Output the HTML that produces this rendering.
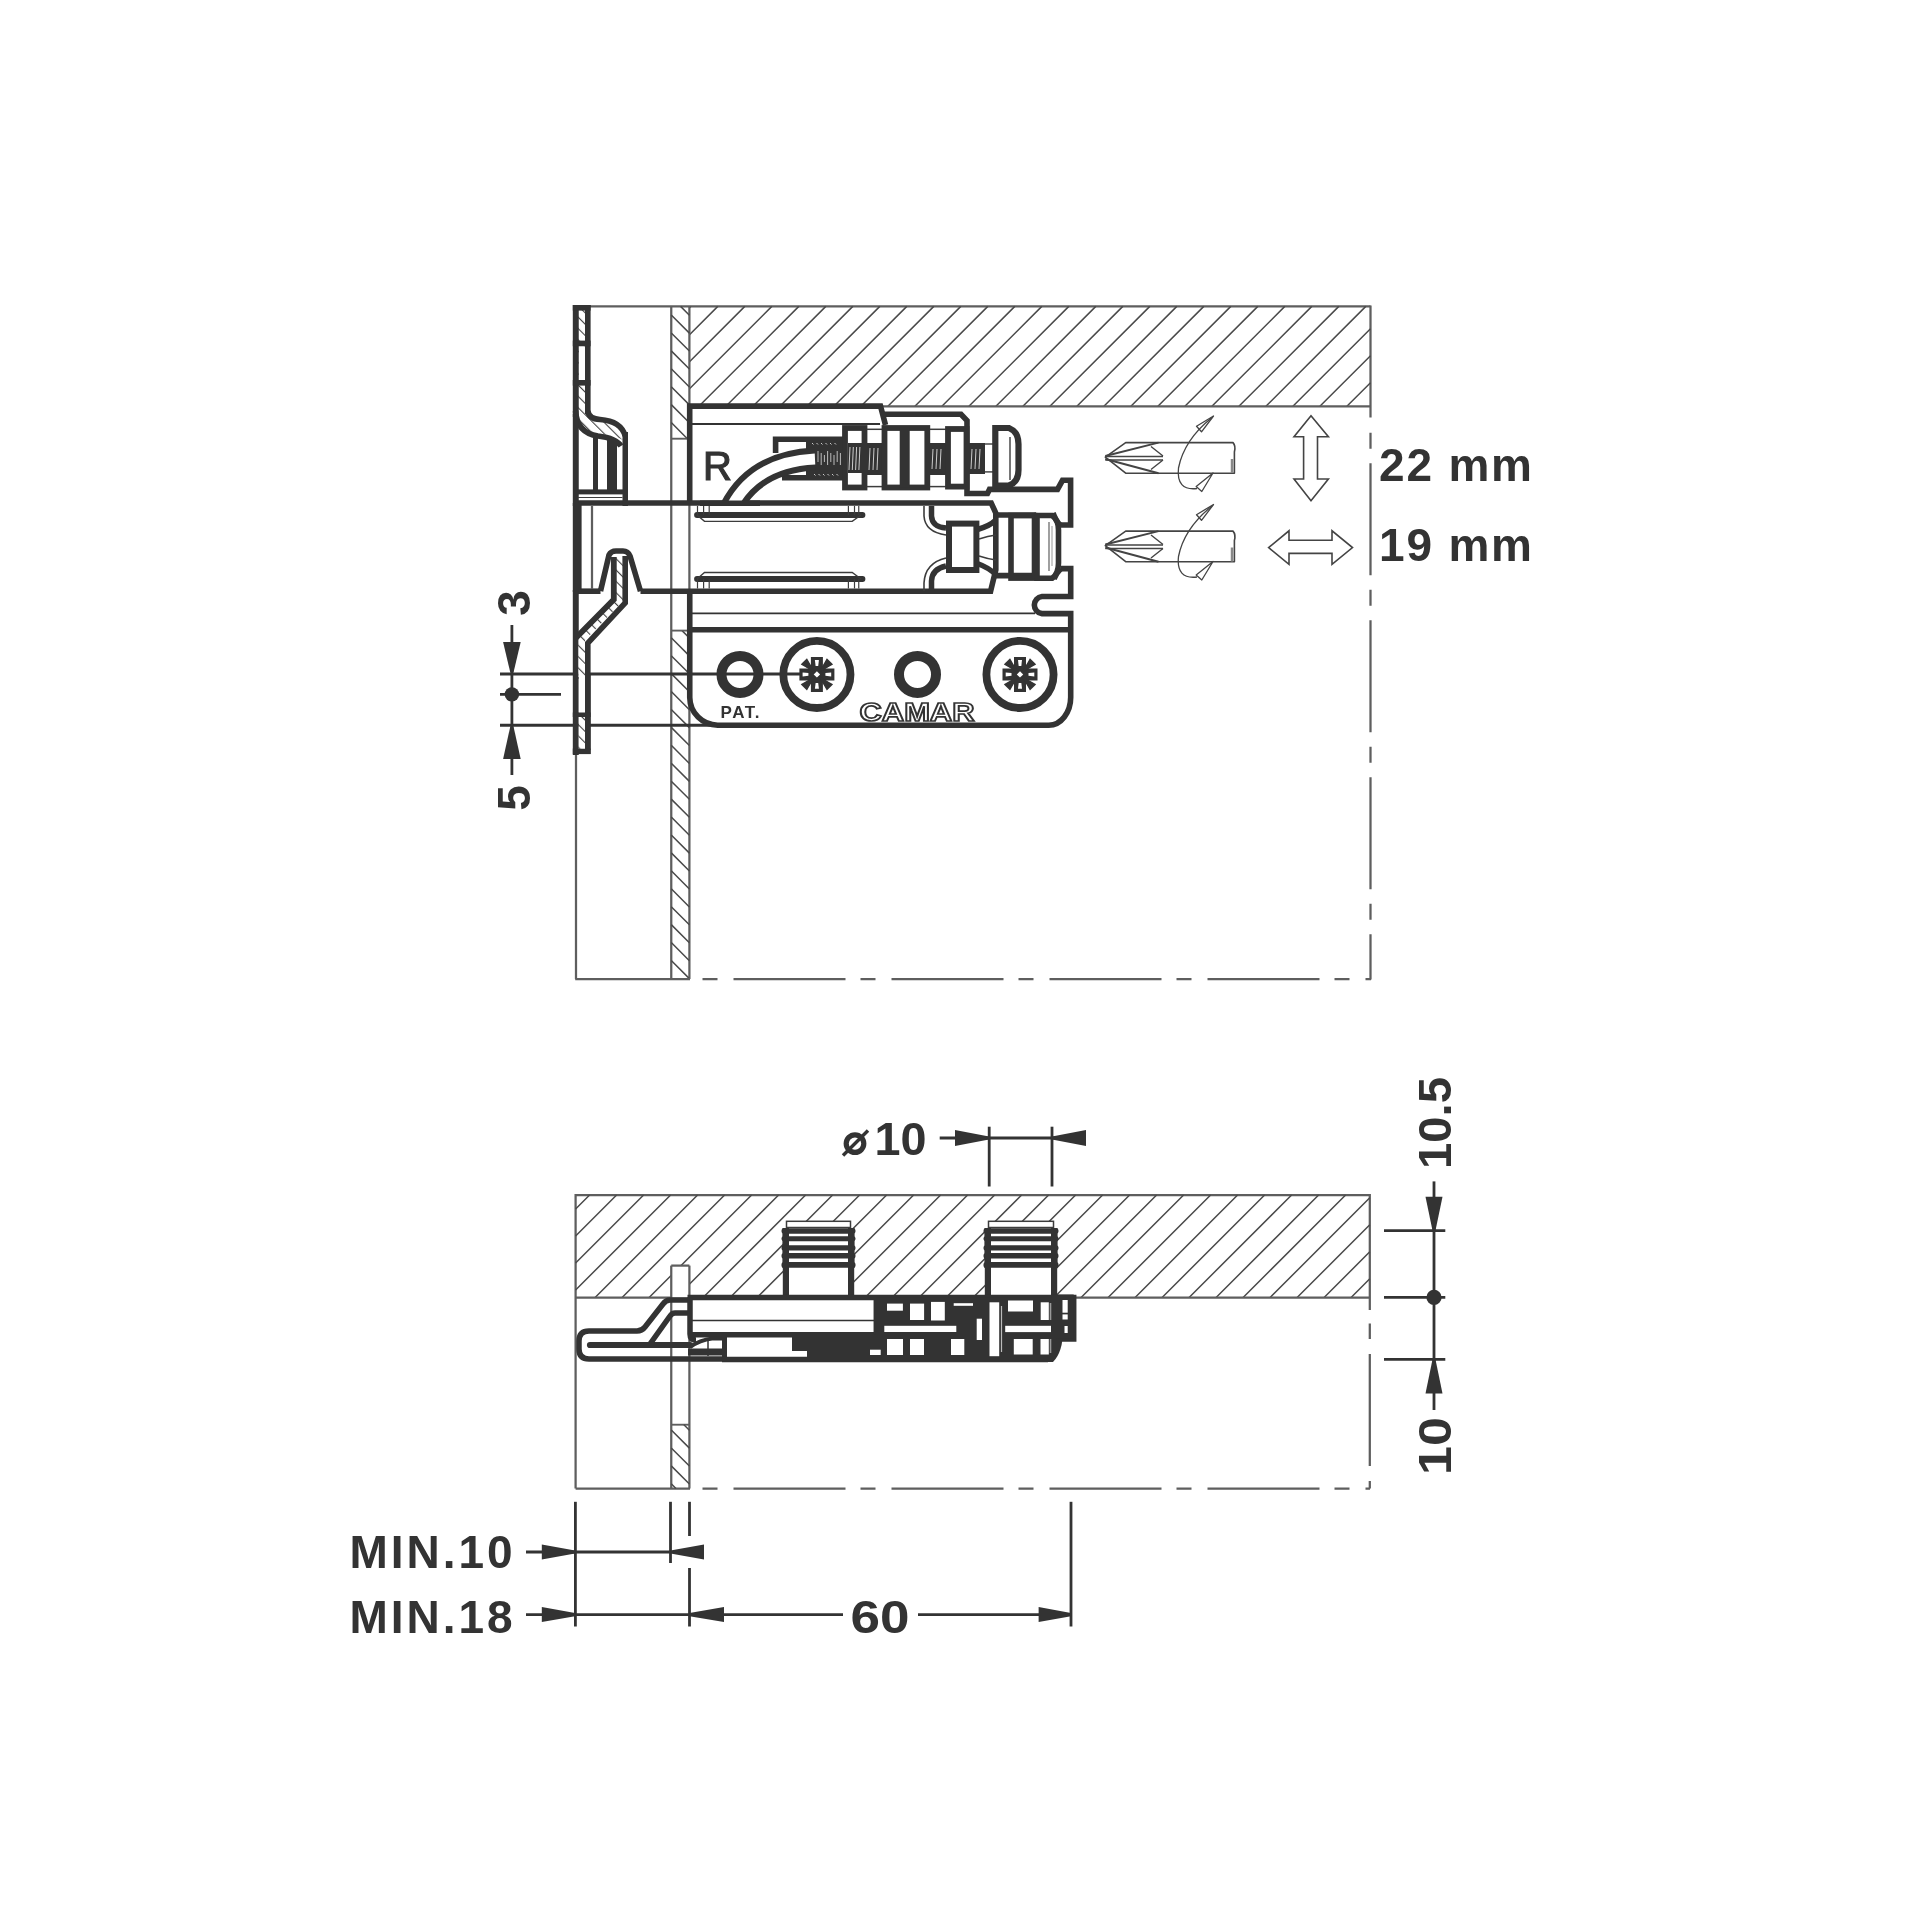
<!DOCTYPE html>
<html><head><meta charset="utf-8"><style>
html,body{margin:0;padding:0;background:#fff;}
svg{display:block;will-change:transform;}
text{font-family:"Liberation Sans", sans-serif;}
</style></head><body>
<svg width="1920" height="1920" viewBox="0 0 1920 1920">
<rect x="0" y="0" width="1920" height="1920" fill="#fff"/>
<line x1="590.00" y1="306.40" x2="1370.50" y2="306.40" stroke="#5e5e5e" stroke-width="2.25" />
<line x1="1370.50" y1="305.50" x2="1370.50" y2="417.50" stroke="#5e5e5e" stroke-width="2.25" />
<path d="M1370.50 432.80V448.80 M1370.50 463.30V575.30 M1370.50 589.80V605.80 M1370.50 620.30V732.30 M1370.50 746.80V762.80 M1370.50 777.30V889.30 M1370.50 903.80V919.80 M1370.50 934.30V979.50" stroke="#5e5e5e" stroke-width="2.25" fill="none"/>
<path d="M689.50 307.70L690.80 306.40 M689.50 334.70L717.80 306.40 M689.50 361.70L744.80 306.40 M689.50 388.70L771.80 306.40 M698.90 406.30L798.80 306.40 M725.90 406.30L825.80 306.40 M752.90 406.30L852.80 306.40 M779.90 406.30L879.80 306.40 M806.90 406.30L906.80 306.40 M833.90 406.30L933.80 306.40 M860.90 406.30L960.80 306.40 M887.90 406.30L987.80 306.40 M914.90 406.30L1014.80 306.40 M941.90 406.30L1041.80 306.40 M968.90 406.30L1068.80 306.40 M995.90 406.30L1095.80 306.40 M1022.90 406.30L1122.80 306.40 M1049.90 406.30L1149.80 306.40 M1076.90 406.30L1176.80 306.40 M1103.90 406.30L1203.80 306.40 M1130.90 406.30L1230.80 306.40 M1157.90 406.30L1257.80 306.40 M1184.90 406.30L1284.80 306.40 M1211.90 406.30L1311.80 306.40 M1238.90 406.30L1338.80 306.40 M1265.90 406.30L1365.80 306.40 M1292.90 406.30L1370.50 328.70 M1319.90 406.30L1370.50 355.70 M1346.90 406.30L1370.50 382.70" stroke="#4a4a4a" stroke-width="1.4949999999999999" fill="none"/>
<line x1="689.50" y1="406.30" x2="1370.50" y2="406.30" stroke="#5e5e5e" stroke-width="2.25" />
<line x1="671.25" y1="306.00" x2="671.25" y2="979.00" stroke="#5e5e5e" stroke-width="2.25" />
<line x1="689.40" y1="306.00" x2="689.40" y2="979.00" stroke="#5e5e5e" stroke-width="2.25" />
<path d="M671.25 422.58L687.37 438.70 M671.25 404.65L689.40 422.80 M671.25 386.72L689.40 404.87 M671.25 368.79L689.40 386.94 M671.25 350.86L689.40 369.01 M671.25 332.93L689.40 351.08 M671.25 315.00L689.40 333.15 M680.58 306.40L689.40 315.22" stroke="#4a4a4a" stroke-width="1.4949999999999999" fill="none"/>
<line x1="671.25" y1="438.70" x2="689.40" y2="438.70" stroke="#5e5e5e" stroke-width="1.875" />
<path d="M671.25 978.41L671.84 979.00 M671.25 960.48L689.40 978.63 M671.25 942.55L689.40 960.70 M671.25 924.62L689.40 942.77 M671.25 906.69L689.40 924.84 M671.25 888.76L689.40 906.91 M671.25 870.83L689.40 888.98 M671.25 852.90L689.40 871.05 M671.25 834.97L689.40 853.12 M671.25 817.04L689.40 835.19 M671.25 799.11L689.40 817.26 M671.25 781.18L689.40 799.33 M671.25 763.25L689.40 781.40 M671.25 745.32L689.40 763.47 M671.25 727.39L689.40 745.54 M671.25 709.46L689.40 727.61 M671.25 691.53L689.40 709.68 M671.25 673.60L689.40 691.75 M671.25 655.67L689.40 673.82 M671.25 637.74L689.40 655.89 M682.04 630.60L689.40 637.96" stroke="#4a4a4a" stroke-width="1.4949999999999999" fill="none"/>
<line x1="671.25" y1="630.60" x2="689.40" y2="630.60" stroke="#5e5e5e" stroke-width="1.875" />
<line x1="576.00" y1="754.00" x2="576.00" y2="979.00" stroke="#5e5e5e" stroke-width="2.25" />
<line x1="575.20" y1="979.00" x2="690.00" y2="979.00" stroke="#5e5e5e" stroke-width="2.25" />
<path d="M702.50 979.00H717.50 M733.50 979.00H845.50 M860.50 979.00H875.50 M891.50 979.00H1003.50 M1018.50 979.00H1033.50 M1049.50 979.00H1161.50 M1176.50 979.00H1191.50 M1207.50 979.00H1319.50 M1334.50 979.00H1349.50 M1365.50 979.00H1371.00" stroke="#5e5e5e" stroke-width="2.25" fill="none"/>
<line x1="500.00" y1="674.00" x2="800.00" y2="674.00" stroke="#333" stroke-width="3.0" />
<line x1="500.00" y1="725.20" x2="720.00" y2="725.20" stroke="#333" stroke-width="3.0" />
<line x1="500.00" y1="694.40" x2="561.00" y2="694.40" stroke="#333" stroke-width="2.6" />
<line x1="511.90" y1="625.00" x2="511.90" y2="775.00" stroke="#333" stroke-width="2.8" />
<circle cx="511.90" cy="694.40" r="7.20" stroke="#333" stroke-width="0" fill="#333"/>
<path d="M503.09999999999997 642.0 H520.6999999999999 L513.5 672.5 H510.29999999999995 Z" stroke="#333" stroke-width="0" fill="#333" />
<path d="M503.09999999999997 759.0 H520.6999999999999 L513.5 726.5 H510.29999999999995 Z" stroke="#333" stroke-width="0" fill="#333" />
<text x="0.00" y="0.00" font-size="46" font-weight="bold" text-anchor="middle" fill="#333" transform="translate(529.5,603) rotate(-90)">3</text>
<text x="0.00" y="0.00" font-size="46" font-weight="bold" text-anchor="middle" fill="#333" transform="translate(529.5,798) rotate(-90)">5</text>
<text x="1379.00" y="480.80" font-size="46" font-weight="bold" text-anchor="start" fill="#333" textLength="153" lengthAdjust="spacing">22 mm</text>
<text x="1379.00" y="561.00" font-size="46" font-weight="bold" text-anchor="start" fill="#333" textLength="153" lengthAdjust="spacing">19 mm</text>
<path d="M689.7 503 V406.1 H880.5 L885.5 425" stroke="#333" stroke-width="5.6" fill="none" />
<line x1="692.00" y1="424.00" x2="880.00" y2="424.00" stroke="#333" stroke-width="1.8" />
<path d="M883 414.2 H961 L967 420.5 V493.5 H987.5 L989.5 489.4 H1057.5 L1062.5 480.3 H1070.6 V525 H1060" stroke="#333" stroke-width="5.6" fill="none" />
<path d="M575 503 H991.2 L995.8 513 V570 L990.6 591.2 H640.5" stroke="#333" stroke-width="5.6" fill="none" />
<path d="M600.5 591.2 H578" stroke="#333" stroke-width="5.6" fill="none" />
<path d="M697 515 H862.5" stroke="#333" stroke-width="5.8" fill="none" stroke-linecap="round"/>
<path d="M697 515 L704.5 521.4 H852.2 L861 515" stroke="#3c3c3c" stroke-width="1.4" fill="none" />
<line x1="697.50" y1="506.00" x2="697.50" y2="515.00" stroke="#3c3c3c" stroke-width="1.2" />
<line x1="703.60" y1="506.00" x2="703.60" y2="515.00" stroke="#3c3c3c" stroke-width="1.2" />
<line x1="709.20" y1="506.00" x2="709.20" y2="515.00" stroke="#3c3c3c" stroke-width="1.2" />
<line x1="848.40" y1="506.00" x2="848.40" y2="515.00" stroke="#3c3c3c" stroke-width="1.2" />
<line x1="854.50" y1="506.00" x2="854.50" y2="515.00" stroke="#3c3c3c" stroke-width="1.2" />
<line x1="858.75" y1="506.00" x2="858.75" y2="515.00" stroke="#3c3c3c" stroke-width="1.2" />
<path d="M697 579 H862.5" stroke="#333" stroke-width="5.8" fill="none" stroke-linecap="round"/>
<path d="M697 579 L704.5 572.5 H852.2 L861 579" stroke="#3c3c3c" stroke-width="1.4" fill="none" />
<line x1="697.50" y1="579.00" x2="697.50" y2="588.50" stroke="#3c3c3c" stroke-width="1.2" />
<line x1="703.60" y1="579.00" x2="703.60" y2="588.50" stroke="#3c3c3c" stroke-width="1.2" />
<line x1="709.20" y1="579.00" x2="709.20" y2="588.50" stroke="#3c3c3c" stroke-width="1.2" />
<line x1="848.40" y1="579.00" x2="848.40" y2="588.50" stroke="#3c3c3c" stroke-width="1.2" />
<line x1="854.50" y1="579.00" x2="854.50" y2="588.50" stroke="#3c3c3c" stroke-width="1.2" />
<line x1="858.75" y1="579.00" x2="858.75" y2="588.50" stroke="#3c3c3c" stroke-width="1.2" />
<path d="M689.75 591.2 V697.5 A28 28 0 0 0 717.75 725.2 H1048.75 A22 28 0 0 0 1070.7 697 V613.6 H1042 A8.6 8.6 0 0 1 1042 596.5 H1070.7 V568.6 H1060.8" stroke="#333" stroke-width="5.6" fill="none" />
<line x1="692.00" y1="613.40" x2="1035.00" y2="613.40" stroke="#333" stroke-width="1.8" />
<path d="M689.75 629.8 H1070.7" stroke="#333" stroke-width="5.6" fill="none" />
<circle cx="740.00" cy="674.40" r="18.50" stroke="#333" stroke-width="10.0" fill="none"/>
<circle cx="917.50" cy="674.40" r="18.50" stroke="#333" stroke-width="10.0" fill="none"/>
<circle cx="816.90" cy="674.40" r="33.60" stroke="#333" stroke-width="7.8" fill="none"/>
<circle cx="1020.00" cy="674.40" r="33.60" stroke="#333" stroke-width="7.8" fill="none"/>
<path d="M810.9 656.9 H822.9 V668.4 H834.4 V680.4 H822.9 V691.9 H810.9 V680.4 H799.4 V668.4 H810.9 Z" stroke="#333" stroke-width="0" fill="#333" />
<path d="M831.1 684.1 L826.6 688.6 L816.9 674.4 Z" stroke="#333" stroke-width="0" fill="#333" />
<path d="M831.1 684.6 L827.1 688.6 L821.9 679.4 Z" stroke="#333" stroke-width="2.4" fill="#333" />
<path d="M831.1 664.6999999999999 L826.6 660.1999999999999 L816.9 674.4 Z" stroke="#333" stroke-width="0" fill="#333" />
<path d="M831.1 664.1999999999999 L827.1 660.1999999999999 L821.9 669.4 Z" stroke="#333" stroke-width="2.4" fill="#333" />
<path d="M802.6999999999999 684.1 L807.1999999999999 688.6 L816.9 674.4 Z" stroke="#333" stroke-width="0" fill="#333" />
<path d="M802.6999999999999 684.6 L806.6999999999999 688.6 L811.9 679.4 Z" stroke="#333" stroke-width="2.4" fill="#333" />
<path d="M802.6999999999999 664.6999999999999 L807.1999999999999 660.1999999999999 L816.9 674.4 Z" stroke="#333" stroke-width="0" fill="#333" />
<path d="M802.6999999999999 664.1999999999999 L806.6999999999999 660.1999999999999 L811.9 669.4 Z" stroke="#333" stroke-width="2.4" fill="#333" />
<path d="M814.9 660.1 H818.9 L818.1999999999999 665.9 H815.6 Z" stroke="#333" stroke-width="0" fill="#fff" />
<path d="M814.9 688.6999999999999 H818.9 L818.1999999999999 682.9 H815.6 Z" stroke="#333" stroke-width="0" fill="#fff" />
<path d="M802.6 672.4 V676.4 L808.4 675.6999999999999 V673.1 Z" stroke="#333" stroke-width="0" fill="#fff" />
<path d="M831.1999999999999 672.4 V676.4 L825.4 675.6999999999999 V673.1 Z" stroke="#333" stroke-width="0" fill="#fff" />
<path d="M816.9 671.1999999999999 L820.1 674.4 L816.9 677.6 L813.6999999999999 674.4 Z" stroke="#333" stroke-width="0" fill="#fff" />
<path d="M1014.0 656.9 H1026.0 V668.4 H1037.5 V680.4 H1026.0 V691.9 H1014.0 V680.4 H1002.5 V668.4 H1014.0 Z" stroke="#333" stroke-width="0" fill="#333" />
<path d="M1034.2 684.1 L1029.7 688.6 L1020 674.4 Z" stroke="#333" stroke-width="0" fill="#333" />
<path d="M1034.2 684.6 L1030.2 688.6 L1025 679.4 Z" stroke="#333" stroke-width="2.4" fill="#333" />
<path d="M1034.2 664.6999999999999 L1029.7 660.1999999999999 L1020 674.4 Z" stroke="#333" stroke-width="0" fill="#333" />
<path d="M1034.2 664.1999999999999 L1030.2 660.1999999999999 L1025 669.4 Z" stroke="#333" stroke-width="2.4" fill="#333" />
<path d="M1005.8 684.1 L1010.3 688.6 L1020 674.4 Z" stroke="#333" stroke-width="0" fill="#333" />
<path d="M1005.8 684.6 L1009.8 688.6 L1015 679.4 Z" stroke="#333" stroke-width="2.4" fill="#333" />
<path d="M1005.8 664.6999999999999 L1010.3 660.1999999999999 L1020 674.4 Z" stroke="#333" stroke-width="0" fill="#333" />
<path d="M1005.8 664.1999999999999 L1009.8 660.1999999999999 L1015 669.4 Z" stroke="#333" stroke-width="2.4" fill="#333" />
<path d="M1018 660.1 H1022 L1021.3 665.9 H1018.7 Z" stroke="#333" stroke-width="0" fill="#fff" />
<path d="M1018 688.6999999999999 H1022 L1021.3 682.9 H1018.7 Z" stroke="#333" stroke-width="0" fill="#fff" />
<path d="M1005.7 672.4 V676.4 L1011.5 675.6999999999999 V673.1 Z" stroke="#333" stroke-width="0" fill="#fff" />
<path d="M1034.3 672.4 V676.4 L1028.5 675.6999999999999 V673.1 Z" stroke="#333" stroke-width="0" fill="#fff" />
<path d="M1020 671.1999999999999 L1023.2 674.4 L1020 677.6 L1016.8 674.4 Z" stroke="#333" stroke-width="0" fill="#fff" />
<text x="720.60" y="717.60" font-size="17" font-weight="bold" text-anchor="start" fill="#333" textLength="39" lengthAdjust="spacing">PAT.</text>
<text x="859.50" y="720.60" font-size="25.5" font-weight="bold" text-anchor="start" fill="#fff" textLength="115" lengthAdjust="spacingAndGlyphs" stroke="#333" stroke-width="1.7">CAMAR</text>
<defs><pattern id="ph" patternUnits="userSpaceOnUse" width="8" height="8" patternTransform="rotate(-45)"><rect width="8" height="8" fill="#fff"/><line x1="0" y1="0" x2="0" y2="8" stroke="#444" stroke-width="2.2"/></pattern></defs>
<rect x="578" y="308" width="7.5" height="108" fill="url(#ph)"/>
<rect x="578.75" y="346.25" width="6.25" height="33.75" fill="#fff"/>
<rect x="572.80" y="305.00" width="5.95" height="112.00" fill="#333"/>
<rect x="585.00" y="305.00" width="5.60" height="112.00" fill="#333"/>
<rect x="572.80" y="305.00" width="17.80" height="5.60" fill="#333"/>
<rect x="572.80" y="340.60" width="17.80" height="5.65" fill="#333"/>
<rect x="572.80" y="380.00" width="17.80" height="5.60" fill="#333"/>
<path d="M578.5 414 Q580 432 600 434 Q618 436 624.5 441 L624.5 432 Q620 420 600 418 Q590 417 587.5 414 Z" fill="url(#ph)"/>
<path d="M575.5 411 Q577 433 598 436 Q616 438 621 446" stroke="#333" stroke-width="5.6" fill="none" />
<path d="M587.8 411 Q589 419 600 419.5 Q621 421 625.2 436" stroke="#333" stroke-width="5.6" fill="none" />
<rect x="572.80" y="414.00" width="5.95" height="92.00" fill="#333"/>
<rect x="593.00" y="437.00" width="5.00" height="53.00" fill="#333"/>
<rect x="607.00" y="439.00" width="10.00" height="51.00" fill="#333"/>
<rect x="622.50" y="432.00" width="5.50" height="74.00" fill="#333"/>
<rect x="578.00" y="489.40" width="46.00" height="5.00" fill="#333"/>
<line x1="578.00" y1="497.50" x2="622.50" y2="497.50" stroke="#3c3c3c" stroke-width="1.2" />
<line x1="592.00" y1="506.00" x2="592.00" y2="589.00" stroke="#5e5e5e" stroke-width="2.25" />
<rect x="572.80" y="503.00" width="8.80" height="89.00" fill="#333"/>
<rect x="572.80" y="590.00" width="5.95" height="165.00" fill="#333"/>
<path d="M600.5 591.2 L609 555 Q611 551 616 551 H623 Q628 551 630 556 L640.5 591.2" stroke="#333" stroke-width="5.6" fill="none" />
<path d="M616 556 H623 V601 L585 640 V677 H578.5 V637 L616 598 Z" fill="url(#ph)"/>
<path d="M613.8 557 V599.5 L575.8 638" stroke="#333" stroke-width="5.8" fill="none" />
<path d="M625.2 556 V603 L587.8 643 V750" stroke="#333" stroke-width="5.6" fill="none" />
<rect x="585.00" y="674.00" width="5.60" height="80.00" fill="#333"/>
<rect x="572.80" y="748.50" width="17.80" height="5.60" fill="#333"/>
<rect x="578.75" y="679.00" width="6.25" height="33.50" fill="#fff"/>
<rect x="572.80" y="712.50" width="17.80" height="4.50" fill="#333"/>
<rect x="578.75" y="717" width="6.25" height="31.5" fill="url(#ph)"/>
<rect x="578.75" y="645" width="6.25" height="29" fill="url(#ph)"/>
<text x="703.00" y="479.50" font-size="40" font-weight="normal" text-anchor="start" fill="#333" stroke="#333" stroke-width="1.2">R</text>
<path d="M775.6 453 V439.3 H843" stroke="#333" stroke-width="5.6" fill="none" />
<path d="M782 477.8 H843" stroke="#333" stroke-width="5.6" fill="none" />
<defs><clipPath id="armclip"><rect x="690" y="400" width="200" height="103"/></clipPath></defs>
<rect x="806.00" y="442.00" width="37.00" height="34.00" fill="#333"/>
<line x1="818.00" y1="451.00" x2="818.00" y2="462.00" stroke="#bbb" stroke-width="1.0" />
<line x1="821.20" y1="453.00" x2="821.20" y2="465.00" stroke="#bbb" stroke-width="1.0" />
<line x1="824.40" y1="455.00" x2="824.40" y2="462.00" stroke="#bbb" stroke-width="1.0" />
<line x1="827.60" y1="451.00" x2="827.60" y2="465.00" stroke="#bbb" stroke-width="1.0" />
<line x1="830.80" y1="453.00" x2="830.80" y2="462.00" stroke="#bbb" stroke-width="1.0" />
<line x1="834.00" y1="455.00" x2="834.00" y2="465.00" stroke="#bbb" stroke-width="1.0" />
<line x1="837.20" y1="451.00" x2="837.20" y2="462.00" stroke="#bbb" stroke-width="1.0" />
<line x1="840.40" y1="453.00" x2="840.40" y2="465.00" stroke="#bbb" stroke-width="1.0" />
<line x1="812.00" y1="443.00" x2="813.50" y2="444.50" stroke="#ccc" stroke-width="1.0" />
<line x1="814.00" y1="474.00" x2="815.50" y2="475.50" stroke="#ccc" stroke-width="1.0" />
<line x1="816.50" y1="443.00" x2="818.00" y2="444.50" stroke="#ccc" stroke-width="1.0" />
<line x1="818.50" y1="474.00" x2="820.00" y2="475.50" stroke="#ccc" stroke-width="1.0" />
<line x1="821.00" y1="443.00" x2="822.50" y2="444.50" stroke="#ccc" stroke-width="1.0" />
<line x1="823.00" y1="474.00" x2="824.50" y2="475.50" stroke="#ccc" stroke-width="1.0" />
<line x1="825.50" y1="443.00" x2="827.00" y2="444.50" stroke="#ccc" stroke-width="1.0" />
<line x1="827.50" y1="474.00" x2="829.00" y2="475.50" stroke="#ccc" stroke-width="1.0" />
<line x1="830.00" y1="443.00" x2="831.50" y2="444.50" stroke="#ccc" stroke-width="1.0" />
<line x1="832.00" y1="474.00" x2="833.50" y2="475.50" stroke="#ccc" stroke-width="1.0" />
<line x1="834.50" y1="443.00" x2="836.00" y2="444.50" stroke="#ccc" stroke-width="1.0" />
<line x1="836.50" y1="474.00" x2="838.00" y2="475.50" stroke="#ccc" stroke-width="1.0" />
<g clip-path="url(#armclip)">
<path d="M729 512 Q752 462 815 459" stroke="#333" stroke-width="23" fill="none" />
<path d="M729 512 Q752 462 815 459" stroke="#fff" stroke-width="11" fill="none" />
</g>
<path d="M700 503.2 H760" stroke="#333" stroke-width="5.6" fill="none" />
<rect x="845.00" y="428.00" width="19.50" height="59.50" stroke="#333" stroke-width="5.8" fill="none" />
<rect x="848.00" y="443.00" width="14.00" height="30.00" fill="#333"/>
<line x1="850.00" y1="447.00" x2="849.00" y2="470.00" stroke="#ccc" stroke-width="1.0" />
<line x1="853.30" y1="447.00" x2="852.30" y2="470.00" stroke="#ccc" stroke-width="1.0" />
<line x1="856.60" y1="447.00" x2="855.60" y2="470.00" stroke="#ccc" stroke-width="1.0" />
<line x1="859.90" y1="447.00" x2="858.90" y2="470.00" stroke="#ccc" stroke-width="1.0" />
<line x1="867.00" y1="429.30" x2="883.00" y2="429.30" stroke="#3c3c3c" stroke-width="1.5" />
<line x1="867.00" y1="486.60" x2="883.00" y2="486.60" stroke="#3c3c3c" stroke-width="1.5" />
<rect x="867.00" y="443.00" width="15.00" height="32.00" fill="#333"/>
<line x1="870.00" y1="448.00" x2="869.00" y2="470.00" stroke="#ccc" stroke-width="1.0" />
<line x1="874.00" y1="448.00" x2="873.00" y2="470.00" stroke="#ccc" stroke-width="1.0" />
<line x1="878.00" y1="448.00" x2="877.00" y2="470.00" stroke="#ccc" stroke-width="1.0" />
<rect x="884.50" y="428.00" width="42.80" height="59.50" stroke="#333" stroke-width="5.8" fill="none" />
<rect x="899.70" y="428.00" width="10.00" height="59.50" fill="#333"/>
<line x1="930.00" y1="429.30" x2="946.00" y2="429.30" stroke="#3c3c3c" stroke-width="1.5" />
<line x1="930.00" y1="486.60" x2="946.00" y2="486.60" stroke="#3c3c3c" stroke-width="1.5" />
<rect x="930.00" y="443.00" width="16.00" height="32.00" fill="#333"/>
<line x1="933.00" y1="449.00" x2="932.00" y2="469.00" stroke="#ccc" stroke-width="1.0" />
<line x1="937.00" y1="449.00" x2="936.00" y2="469.00" stroke="#ccc" stroke-width="1.0" />
<line x1="941.00" y1="449.00" x2="940.00" y2="469.00" stroke="#ccc" stroke-width="1.0" />
<rect x="948.00" y="429.00" width="18.50" height="57.60" stroke="#333" stroke-width="5.8" fill="none" />
<rect x="968.00" y="443.00" width="17.00" height="31.00" fill="#333"/>
<line x1="972.00" y1="449.00" x2="971.00" y2="469.00" stroke="#ccc" stroke-width="1.0" />
<line x1="976.00" y1="449.00" x2="975.00" y2="469.00" stroke="#ccc" stroke-width="1.0" />
<line x1="980.00" y1="449.00" x2="979.00" y2="469.00" stroke="#ccc" stroke-width="1.0" />
<line x1="985.00" y1="444.00" x2="993.00" y2="444.00" stroke="#3c3c3c" stroke-width="1.4" />
<line x1="985.00" y1="471.90" x2="993.00" y2="471.90" stroke="#3c3c3c" stroke-width="1.4" />
<path d="M995.3 485.5 V428 H1009 Q1018.5 432 1018.5 444 V470 Q1018.5 482 1009 485.5 Z" stroke="#333" stroke-width="6.2" fill="none" />
<line x1="1010.00" y1="437.00" x2="1010.00" y2="480.00" stroke="#3c3c3c" stroke-width="1.4" />
<rect x="949.00" y="523.60" width="27.40" height="46.40" stroke="#333" stroke-width="6" fill="none" />
<path d="M924 506 V516 Q925 532 946 535" stroke="#3c3c3c" stroke-width="1.6" fill="none" />
<path d="M931.5 506 V516 Q932 527 946 528" stroke="#333" stroke-width="5.5" fill="none" />
<path d="M924 591 V583 Q925 563 946 558" stroke="#3c3c3c" stroke-width="1.6" fill="none" />
<path d="M931.5 591 V581 Q932 569 946 566" stroke="#333" stroke-width="5.5" fill="none" />
<path d="M976 530 Q990 526 996 520" stroke="#333" stroke-width="5.5" fill="none" />
<path d="M976 563 Q990 568 996 575" stroke="#333" stroke-width="5.5" fill="none" />
<path d="M979 539 Q988 536 996 535" stroke="#3c3c3c" stroke-width="1.4" fill="none" />
<path d="M979 556 Q988 559 996 560" stroke="#3c3c3c" stroke-width="1.4" fill="none" />
<path d="M996 515 H1036 M996 575.6 H1036" stroke="#333" stroke-width="5.6" fill="none" />
<rect x="1011.00" y="515.60" width="23.50" height="62.50" stroke="#333" stroke-width="5.6" fill="none" />
<path d="M1037 578.3 V515.5 H1052 Q1058.5 520 1058.5 530 V563 Q1058.5 574 1052 578.3 Z" stroke="#333" stroke-width="5.6" fill="none" />
<line x1="1049.00" y1="522.00" x2="1049.00" y2="571.00" stroke="#888" stroke-width="1.6" />
<line x1="1052.00" y1="526.00" x2="1052.00" y2="566.00" stroke="#aaa" stroke-width="1.2" />
<path d="M1060 525 Q1056 521 1053 513" stroke="#333" stroke-width="5.6" fill="none" />
<path d="M1060.8 568.6 Q1057 572 1054 579" stroke="#333" stroke-width="5.6" fill="none" />
<g transform="translate(0,0)" fill="none" stroke="#444" stroke-width="1.6" stroke-linejoin="round"><path d="M1105.3 457.2 L1125.7 442.6 H1233 Q1236 446 1234.4 452 V473.2 H1125.7 Z"/><path d="M1105.3 456 L1158.5 442.6 M1105.3 459 L1158.5 473.2" stroke-width="2"/><path d="M1105.3 456.5 H1163 M1105.3 460 H1163" stroke-width="1.4"/><path d="M1151 446.5 L1163 456 M1151 469.5 L1163 460" stroke-width="1.4"/><path d="M1232 459 V473" stroke="#888" stroke-width="2.5"/><path d="M1212 417.5 Q1184 440 1178.5 468 Q1176 491 1197 488.5" stroke-width="1.3"/><path d="M1213.5 416 L1201.5 431.8 L1196.5 426.2 Z" stroke-width="1.3"/><path d="M1213 473 L1201.8 491.5 L1196.2 486.5 Z" stroke-width="1.3"/></g>
<g transform="translate(0,88.5)" fill="none" stroke="#444" stroke-width="1.6" stroke-linejoin="round"><path d="M1105.3 457.2 L1125.7 442.6 H1233 Q1236 446 1234.4 452 V473.2 H1125.7 Z"/><path d="M1105.3 456 L1158.5 442.6 M1105.3 459 L1158.5 473.2" stroke-width="2"/><path d="M1105.3 456.5 H1163 M1105.3 460 H1163" stroke-width="1.4"/><path d="M1151 446.5 L1163 456 M1151 469.5 L1163 460" stroke-width="1.4"/><path d="M1232 459 V473" stroke="#888" stroke-width="2.5"/><path d="M1212 417.5 Q1184 440 1178.5 468 Q1176 491 1197 488.5" stroke-width="1.3"/><path d="M1213.5 416 L1201.5 431.8 L1196.5 426.2 Z" stroke-width="1.3"/><path d="M1213 473 L1201.8 491.5 L1196.2 486.5 Z" stroke-width="1.3"/></g>
<path d="M1311 415.8 L1328.4 436.8 H1317.5 V479 H1328.4 L1311 500.8 L1294 479 H1303.6 V436.8 H1294 Z" fill="none" stroke="#444" stroke-width="1.6" stroke-linejoin="miter"/>
<path d="M1268.6 547.6 L1289 530.8 V540.3 H1332 V530.8 L1352.5 547.6 L1332 564.4 V553.4 H1289 V564.4 Z" fill="none" stroke="#444" stroke-width="1.6" stroke-linejoin="miter"/>
<line x1="575.60" y1="1195.00" x2="1370.00" y2="1195.00" stroke="#5e5e5e" stroke-width="2.25" />
<line x1="575.60" y1="1194.00" x2="575.60" y2="1488.50" stroke="#5e5e5e" stroke-width="2.25" />
<line x1="1369.80" y1="1194.00" x2="1369.80" y2="1310.00" stroke="#5e5e5e" stroke-width="2.25" />
<path d="M1369.80 1323.60V1339.00 M1369.80 1354.00V1466.00 M1369.80 1481.00V1488.50" stroke="#5e5e5e" stroke-width="2.25" fill="none"/>
<path d="M575.60 1209.00L589.60 1195.00 M575.60 1236.00L616.60 1195.00 M575.60 1263.00L643.60 1195.00 M575.60 1290.00L670.60 1195.00 M595.10 1297.50L697.60 1195.00 M622.10 1297.50L724.60 1195.00 M649.10 1297.50L751.60 1195.00 M676.10 1297.50L778.60 1195.00 M703.10 1297.50L805.60 1195.00 M730.10 1297.50L832.60 1195.00 M757.10 1297.50L859.60 1195.00 M784.10 1297.50L886.60 1195.00 M811.10 1297.50L913.60 1195.00 M838.10 1297.50L940.60 1195.00 M865.10 1297.50L967.60 1195.00 M892.10 1297.50L994.60 1195.00 M919.10 1297.50L1021.60 1195.00 M946.10 1297.50L1048.60 1195.00 M973.10 1297.50L1075.60 1195.00 M1000.10 1297.50L1102.60 1195.00 M1027.10 1297.50L1129.60 1195.00 M1054.10 1297.50L1156.60 1195.00 M1081.10 1297.50L1183.60 1195.00 M1108.10 1297.50L1210.60 1195.00 M1135.10 1297.50L1237.60 1195.00 M1162.10 1297.50L1264.60 1195.00 M1189.10 1297.50L1291.60 1195.00 M1216.10 1297.50L1318.60 1195.00 M1243.10 1297.50L1345.60 1195.00 M1270.10 1297.50L1369.80 1197.80 M1297.10 1297.50L1369.80 1224.80 M1324.10 1297.50L1369.80 1251.80 M1351.10 1297.50L1369.80 1278.80" stroke="#4a4a4a" stroke-width="1.4949999999999999" fill="none"/>
<line x1="575.60" y1="1297.50" x2="1369.80" y2="1297.50" stroke="#5e5e5e" stroke-width="2.25" />
<line x1="575.60" y1="1488.50" x2="690.00" y2="1488.50" stroke="#5e5e5e" stroke-width="2.25" />
<path d="M702.50 1488.50H717.50 M733.50 1488.50H845.50 M860.50 1488.50H875.50 M891.50 1488.50H1003.50 M1018.50 1488.50H1033.50 M1049.50 1488.50H1161.50 M1176.50 1488.50H1191.50 M1207.50 1488.50H1319.50 M1334.50 1488.50H1349.50 M1365.50 1488.50H1370.00" stroke="#5e5e5e" stroke-width="2.25" fill="none"/>
<rect x="671.25" y="1265.60" width="18.15" height="32.00" fill="#fff"/>
<line x1="671.25" y1="1265.60" x2="671.25" y2="1488.50" stroke="#5e5e5e" stroke-width="2.25" />
<line x1="689.40" y1="1265.60" x2="689.40" y2="1488.50" stroke="#5e5e5e" stroke-width="2.25" />
<line x1="671.25" y1="1265.60" x2="689.40" y2="1265.60" stroke="#5e5e5e" stroke-width="2.25" />
<line x1="671.25" y1="1424.70" x2="689.40" y2="1424.70" stroke="#5e5e5e" stroke-width="1.875" />
<path d="M671.25 1483.79L675.96 1488.50 M671.25 1465.86L689.40 1484.01 M671.25 1447.93L689.40 1466.08 M671.25 1430.00L689.40 1448.15 M683.88 1424.70L689.40 1430.22" stroke="#4a4a4a" stroke-width="1.4949999999999999" fill="none"/>
<rect x="785.50" y="1221.00" width="66.00" height="78.00" fill="#fff"/>
<rect x="786.50" y="1221.30" width="64.00" height="6.20" stroke="#3c3c3c" stroke-width="1.5" fill="none" />
<rect x="781.5" y="1228.3" width="74.0" height="5.400000000000091" rx="2.6" fill="#333"/>
<rect x="781.5" y="1236.3" width="74.0" height="4.900000000000091" rx="2.6" fill="#333"/>
<rect x="781.5" y="1245.2" width="74.0" height="5.2999999999999545" rx="2.6" fill="#333"/>
<rect x="781.5" y="1253.1" width="74.0" height="5.400000000000091" rx="2.6" fill="#333"/>
<rect x="781.5" y="1262" width="74.0" height="5.7999999999999545" rx="2.6" fill="#333"/>
<rect x="782.50" y="1228.00" width="6.00" height="40.00" fill="#333"/>
<rect x="848.50" y="1228.00" width="6.00" height="40.00" fill="#333"/>
<rect x="782.80" y="1228.00" width="6.20" height="70.00" fill="#333"/>
<rect x="848.00" y="1228.00" width="6.20" height="70.00" fill="#333"/>
<rect x="790.50" y="1234.50" width="56.00" height="1.20" fill="#fff"/>
<rect x="790.50" y="1242.00" width="56.00" height="2.40" fill="#fff"/>
<rect x="790.50" y="1251.30" width="56.00" height="1.20" fill="#fff"/>
<rect x="790.50" y="1259.30" width="56.00" height="1.90" fill="#fff"/>
<rect x="987.50" y="1221.00" width="67.00" height="78.00" fill="#fff"/>
<rect x="988.50" y="1221.30" width="65.00" height="6.20" stroke="#3c3c3c" stroke-width="1.5" fill="none" />
<rect x="983.5" y="1228.3" width="75.0" height="5.400000000000091" rx="2.6" fill="#333"/>
<rect x="983.5" y="1236.3" width="75.0" height="4.900000000000091" rx="2.6" fill="#333"/>
<rect x="983.5" y="1245.2" width="75.0" height="5.2999999999999545" rx="2.6" fill="#333"/>
<rect x="983.5" y="1253.1" width="75.0" height="5.400000000000091" rx="2.6" fill="#333"/>
<rect x="983.5" y="1262" width="75.0" height="5.7999999999999545" rx="2.6" fill="#333"/>
<rect x="984.50" y="1228.00" width="6.00" height="40.00" fill="#333"/>
<rect x="1051.50" y="1228.00" width="6.00" height="40.00" fill="#333"/>
<rect x="984.80" y="1228.00" width="6.20" height="70.00" fill="#333"/>
<rect x="1051.00" y="1228.00" width="6.20" height="70.00" fill="#333"/>
<rect x="992.50" y="1234.50" width="57.00" height="1.20" fill="#fff"/>
<rect x="992.50" y="1242.00" width="57.00" height="2.40" fill="#fff"/>
<rect x="992.50" y="1251.30" width="57.00" height="1.20" fill="#fff"/>
<rect x="992.50" y="1259.30" width="57.00" height="1.90" fill="#fff"/>
<path d="M687.5 1297.4 H1073.7 V1339 H1060" stroke="#333" stroke-width="5.5" fill="none" />
<path d="M689 1300 H670 Q666 1300 663 1304 L645 1327 Q642 1331 637 1331 H589 Q579 1331 579 1341 V1349 Q579 1359 589 1359 H722" stroke="#333" stroke-width="5.5" fill="none" />
<path d="M689.5 1313 H675 Q672 1313 670 1316 L650 1344" stroke="#333" stroke-width="5.5" fill="none" />
<path d="M590 1345 H690" stroke="#333" stroke-width="6.2" fill="none" stroke-linecap="round"/>
<path d="M690 1297.4 V1334 Q690 1340 696 1340" stroke="#333" stroke-width="5.5" fill="none" />
<rect x="692.50" y="1300.00" width="183.80" height="0.00" stroke="#333" stroke-width="0" fill="none" />
<line x1="692.00" y1="1320.50" x2="876.00" y2="1320.50" stroke="#333" stroke-width="1.6" />
<path d="M690 1334.7 H880" stroke="#333" stroke-width="5.5" fill="none" />
<path d="M876.3 1300 V1334.7" stroke="#333" stroke-width="5.5" fill="none" />
<path d="M690 1347 Q700 1340 712 1338.5 H723" stroke="#333" stroke-width="4" fill="none" />
<line x1="708.00" y1="1338.00" x2="708.00" y2="1356.00" stroke="#333" stroke-width="1.5" />
<rect x="688.00" y="1348.50" width="35.00" height="7.00" fill="#333"/>
<rect x="722.00" y="1335.00" width="5.00" height="27.00" fill="#333"/>
<path d="M722 1359.4 H1048" stroke="#333" stroke-width="5.5" fill="none" />
<rect x="792.00" y="1335.00" width="88.00" height="16.00" fill="#333"/>
<rect x="807.00" y="1335.00" width="73.00" height="27.00" fill="#333"/>
<rect x="792.00" y="1338.00" width="0.10" height="0.10" fill="#333"/>
<rect x="876.00" y="1297.40" width="177.00" height="64.50" fill="#333"/>
<path d="M1045 1297 H1056 Q1063 1310 1063 1330 Q1063 1352 1053 1362 H1045 Z" fill="#333"/>
<rect x="1056.00" y="1294.50" width="17.70" height="44.00" fill="#333"/>
<rect x="887.00" y="1303.60" width="15.90" height="7.10" fill="#fff"/>
<rect x="910.00" y="1303.60" width="14.10" height="16.40" fill="#fff"/>
<rect x="931.00" y="1301.90" width="13.80" height="18.60" fill="#fff"/>
<rect x="953.70" y="1303.20" width="19.30" height="2.60" fill="#fff"/>
<rect x="884.30" y="1325.80" width="72.00" height="6.20" fill="#fff"/>
<rect x="870.00" y="1349.70" width="10.70" height="5.30" fill="#fff"/>
<rect x="887.00" y="1339.00" width="16.00" height="16.00" fill="#fff"/>
<rect x="910.00" y="1339.00" width="14.00" height="16.00" fill="#fff"/>
<rect x="951.00" y="1339.00" width="13.30" height="16.00" fill="#fff"/>
<rect x="976.70" y="1318.70" width="5.30" height="21.30" fill="#fff"/>
<rect x="989.50" y="1302.30" width="9.70" height="53.90" fill="#fff"/>
<rect x="1008.00" y="1300.50" width="25.00" height="11.00" fill="#fff"/>
<rect x="1005.20" y="1325.80" width="45.80" height="6.30" fill="#fff"/>
<rect x="1040.70" y="1302.30" width="8.10" height="17.70" fill="#fff"/>
<rect x="1013.80" y="1339.00" width="18.90" height="15.50" fill="#fff"/>
<rect x="1040.50" y="1339.00" width="8.30" height="15.50" fill="#fff"/>
<rect x="1062.50" y="1300.00" width="5.20" height="12.70" fill="#fff"/>
<rect x="1062.50" y="1314.40" width="5.20" height="5.10" fill="#fff"/>
<rect x="1064.50" y="1326.00" width="3.20" height="7.00" fill="#fff"/>
<line x1="1050.50" y1="1303.00" x2="1050.50" y2="1320.00" stroke="#999" stroke-width="1.6" />
<line x1="1050.50" y1="1339.00" x2="1050.50" y2="1353.00" stroke="#999" stroke-width="1.6" />
<line x1="1001.50" y1="1306.00" x2="1001.50" y2="1352.00" stroke="#bbb" stroke-width="1.2" />
<line x1="1434.00" y1="1181.40" x2="1434.00" y2="1410.00" stroke="#333" stroke-width="2.8" />
<line x1="1384.00" y1="1230.60" x2="1445.30" y2="1230.60" stroke="#333" stroke-width="2.8" />
<line x1="1384.00" y1="1297.40" x2="1445.30" y2="1297.40" stroke="#333" stroke-width="2.8" />
<line x1="1384.00" y1="1359.30" x2="1445.30" y2="1359.30" stroke="#333" stroke-width="2.8" />
<circle cx="1434.00" cy="1297.40" r="7.60" stroke="#333" stroke-width="0" fill="#333"/>
<path d="M1425.5 1196.7 H1442.5 L1435.6 1230 H1432.4 Z" stroke="#333" stroke-width="0" fill="#333" />
<path d="M1425.5 1393.6 H1442.5 L1435.6 1360 H1432.4 Z" stroke="#333" stroke-width="0" fill="#333" />
<text x="0.00" y="0.00" font-size="46" font-weight="bold" text-anchor="middle" fill="#333" transform="translate(1450.5,1123) rotate(-90)" textLength="92" lengthAdjust="spacingAndGlyphs">10.5</text>
<text x="0.00" y="0.00" font-size="46" font-weight="bold" text-anchor="middle" fill="#333" transform="translate(1450.5,1446) rotate(-90)" textLength="58" lengthAdjust="spacingAndGlyphs">10</text>
<line x1="939.70" y1="1138.00" x2="1086.00" y2="1138.00" stroke="#333" stroke-width="2.8" />
<line x1="989.20" y1="1126.70" x2="989.20" y2="1186.50" stroke="#333" stroke-width="2.8" />
<line x1="1052.00" y1="1126.70" x2="1052.00" y2="1186.50" stroke="#333" stroke-width="2.8" />
<path d="M955 1130.0 V1146.0 L989 1139.6 V1136.4 Z" stroke="#333" stroke-width="0" fill="#333" />
<path d="M1086 1130.0 V1146.0 L1052 1139.6 V1136.4 Z" stroke="#333" stroke-width="0" fill="#333" />
<text x="874.50" y="1154.50" font-size="46" font-weight="bold" text-anchor="start" fill="#333" textLength="52" lengthAdjust="spacingAndGlyphs">10</text>
<circle cx="855.00" cy="1143.60" r="8.80" stroke="#333" stroke-width="5.2" fill="none"/>
<line x1="843.00" y1="1155.50" x2="868.00" y2="1130.50" stroke="#333" stroke-width="3.4" />
<line x1="575.40" y1="1501.80" x2="575.40" y2="1626.50" stroke="#333" stroke-width="2.8" />
<line x1="670.50" y1="1501.80" x2="670.50" y2="1563.00" stroke="#333" stroke-width="2.8" />
<line x1="689.50" y1="1501.80" x2="689.50" y2="1536.00" stroke="#333" stroke-width="2.8" />
<line x1="689.50" y1="1568.00" x2="689.50" y2="1626.50" stroke="#333" stroke-width="2.8" />
<line x1="1071.00" y1="1501.80" x2="1071.00" y2="1626.50" stroke="#333" stroke-width="2.8" />
<line x1="526.00" y1="1552.00" x2="670.50" y2="1552.00" stroke="#333" stroke-width="2.8" />
<path d="M541.8 1544.5 V1559.5 L575 1553.6 V1550.4 Z" stroke="#333" stroke-width="0" fill="#333" />
<path d="M704.0 1544.5 V1559.5 L670.5 1553.6 V1550.4 Z" stroke="#333" stroke-width="0" fill="#333" />
<line x1="526.00" y1="1614.60" x2="843.00" y2="1614.60" stroke="#333" stroke-width="2.8" />
<line x1="918.00" y1="1614.60" x2="1071.00" y2="1614.60" stroke="#333" stroke-width="2.8" />
<path d="M541.8 1607.1 V1622.1 L575 1616.1999999999998 V1613.0 Z" stroke="#333" stroke-width="0" fill="#333" />
<path d="M724.0 1607.1 V1622.1 L689.5 1616.1999999999998 V1613.0 Z" stroke="#333" stroke-width="0" fill="#333" />
<path d="M1038.6 1607.1 V1622.1 L1071 1616.1999999999998 V1613.0 Z" stroke="#333" stroke-width="0" fill="#333" />
<text x="349.50" y="1568.20" font-size="46" font-weight="bold" text-anchor="start" fill="#333" textLength="163" lengthAdjust="spacing">MIN.10</text>
<text x="349.50" y="1632.60" font-size="46" font-weight="bold" text-anchor="start" fill="#333" textLength="163" lengthAdjust="spacing">MIN.18</text>
<text x="850.50" y="1632.60" font-size="46" font-weight="bold" text-anchor="start" fill="#333" textLength="59" lengthAdjust="spacingAndGlyphs">60</text>
</svg></body></html>
